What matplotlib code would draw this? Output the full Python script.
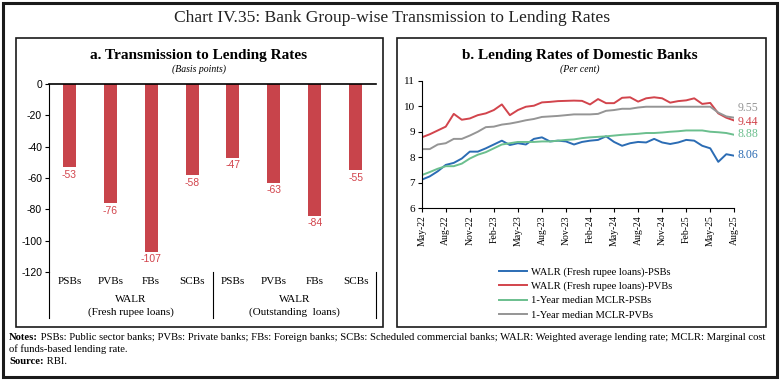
import matplotlib.pyplot as plt
from matplotlib.patches import Rectangle
from matplotlib.lines import Line2D
import numpy as np

plt.rcParams["axes.unicode_minus"] = False

# panel a data
bank_groups = ["PSBs", "PVBs", "FBs", "SCBs", "PSBs", "PVBs", "FBs", "SCBs"]
transmission = [-53, -76, -107, -58, -47, -63, -84, -55]
group_labels = ["WALR\n(Fresh rupee loans)", "WALR\n(Outstanding  loans)"]

# panel b data (May-22 to Aug-25, monthly)
months = ["May-22", "Jun-22", "Jul-22", "Aug-22", "Sep-22", "Oct-22", "Nov-22", "Dec-22",
          "Jan-23", "Feb-23", "Mar-23", "Apr-23", "May-23", "Jun-23", "Jul-23", "Aug-23",
          "Sep-23", "Oct-23", "Nov-23", "Dec-23", "Jan-24", "Feb-24", "Mar-24", "Apr-24",
          "May-24", "Jun-24", "Jul-24", "Aug-24", "Sep-24", "Oct-24", "Nov-24", "Dec-24",
          "Jan-25", "Feb-25", "Mar-25", "Apr-25", "May-25", "Jun-25", "Jul-25", "Aug-25"]
walr_psb = [7.12, 7.25, 7.45, 7.70, 7.78, 7.95, 8.22, 8.22, 8.35, 8.50, 8.65, 8.48, 8.55,
            8.50, 8.72, 8.78, 8.62, 8.65, 8.62, 8.50, 8.60, 8.65, 8.68, 8.82, 8.60, 8.45,
            8.55, 8.60, 8.58, 8.72, 8.58, 8.52, 8.58, 8.68, 8.65, 8.45, 8.35, 7.82, 8.12, 8.06]
walr_pvb = [8.78, 8.90, 9.05, 9.20, 9.70, 9.47, 9.52, 9.65, 9.72, 9.85, 10.07, 9.65, 9.85,
            9.98, 10.02, 10.15, 10.17, 10.20, 10.21, 10.22, 10.21, 10.07, 10.28, 10.12, 10.12,
            10.33, 10.35, 10.18, 10.31, 10.35, 10.31, 10.14, 10.20, 10.23, 10.31, 10.09, 10.13,
            9.72, 9.55, 9.44]
mclr_psb = [7.30, 7.42, 7.55, 7.65, 7.65, 7.75, 7.95, 8.10, 8.20, 8.35, 8.50, 8.55, 8.60,
            8.60, 8.60, 8.62, 8.62, 8.65, 8.68, 8.70, 8.75, 8.78, 8.80, 8.82, 8.85, 8.88,
            8.90, 8.92, 8.95, 8.95, 8.97, 9.00, 9.02, 9.05, 9.05, 9.05, 9.00, 8.98, 8.95, 8.88]
mclr_pvb = [8.32, 8.32, 8.50, 8.55, 8.72, 8.72, 8.85, 9.00, 9.18, 9.20, 9.28, 9.32, 9.38,
            9.45, 9.50, 9.58, 9.60, 9.62, 9.65, 9.68, 9.68, 9.68, 9.70, 9.82, 9.85, 9.90,
            9.90, 9.95, 9.98, 9.98, 9.98, 9.98, 9.98, 9.98, 9.98, 9.98, 9.98, 9.75, 9.60, 9.55]
series_names = ["WALR (Fresh rupee loans)-PSBs", "WALR (Fresh rupee loans)-PVBs",
                "1-Year median MCLR-PSBs", "1-Year median MCLR-PVBs"]

W, H = 780, 381
serif = "Liberation Serif"
sans = "Liberation Sans"
bar_red = "#C8444B"
colors = ["#2B6CB4", "#D2444C", "#6BBF8E", "#959595"]


def rect(x0, y0, x1, y1):
    # pixel box (top-left origin) -> figure fraction rect
    return [x0 / W, 1 - y1 / H, (x1 - x0) / W, (y1 - y0) / H]


fig = plt.figure(figsize=(W / 100, H / 100), dpi=100)

# outer frame and panel boxes
fig.patches.append(Rectangle((3.5 / W, 1 - 377 / H), 773.5 / W, 374 / H, transform=fig.transFigure,
                             fill=False, lw=2.2, ec="#1a1a1a"))
for x0, x1 in [(16, 383), (397, 766)]:
    fig.patches.append(Rectangle((x0 / W, 1 - 327 / H), (x1 - x0) / W, 289 / H,
                                 transform=fig.transFigure, fill=False, lw=1.2, ec="#1a1a1a"))

fig.text(392 / W, 1 - 18 / H, "Chart IV.35: Bank Group-wise Transmission to Lending Rates",
         ha="center", va="center", fontsize=12.6, family=serif, color="#222222")

# ---- panel a ----
ax1 = fig.add_axes(rect(49, 84, 376, 272))
x = np.arange(len(transmission))
ax1.bar(x, transmission, width=0.32, color=bar_red)
for xi, v in zip(x, transmission):
    ax1.annotate(str(v), (xi, v), xytext=(0, -2), textcoords="offset points",
                 ha="center", va="top", fontsize=7.5, color="#D2444C", family=sans)
ax1.set_xlim(-0.5, 7.5)
ax1.set_ylim(-120, 0)
ax1.set_yticks(np.arange(-120, 1, 20))
ax1.tick_params(axis="y", labelsize=7.5, length=3, width=0.8, pad=2)
for lab in ax1.get_yticklabels():
    lab.set_family(sans)
ax1.set_xticks([])
for s in ["right", "bottom"]:
    ax1.spines[s].set_visible(False)
ax1.spines["top"].set_linewidth(1.2)
ax1.spines["left"].set_linewidth(0.8)
tr = ax1.get_xaxis_transform()
for xs in [-0.5, 3.5, 7.5]:
    ax1.add_line(Line2D([xs, xs], [0, -0.245], transform=tr, clip_on=False, color="black", lw=0.8))
for xi, name in zip(x, bank_groups):
    ax1.text(xi, -0.053, name, transform=tr, ha="center", va="center", fontsize=8, family=serif)
for gx, g in zip([1.5, 5.5], group_labels):
    ax1.text(gx, -0.18, g, transform=tr, ha="center", va="center", fontsize=8,
             family=serif, linespacing=1.5)

fig.text(199 / W, 1 - 55 / H, "a. Transmission to Lending Rates", ha="center", va="center",
         fontsize=11, fontweight="bold", family=serif)
fig.text(199 / W, 1 - 69 / H, "(Basis points)", ha="center", va="center",
         fontsize=7, style="italic", family=serif)

# ---- panel b ----
ax2 = fig.add_axes(rect(421.7, 80.7, 734.3, 208.3))
t = np.arange(len(months))
for ys, c, name in zip([walr_psb, walr_pvb, mclr_psb, mclr_pvb], colors, series_names):
    ax2.plot(t, ys, color=c, lw=1.4, label=name)
ax2.set_xlim(0, len(months) - 1)
ax2.set_ylim(6, 11)
ax2.set_yticks(range(6, 12))
ax2.set_xticks(t[::3])
ax2.set_xticklabels(months[::3], rotation=90, fontsize=7, family=serif)
ax2.tick_params(axis="y", labelsize=8, length=3, width=0.8, pad=2)
ax2.tick_params(axis="x", length=3, width=0.8, pad=2)
for lab in ax2.get_yticklabels():
    lab.set_family(serif)
for s in ["right", "top"]:
    ax2.spines[s].set_visible(False)

for ys, c, dy in zip([mclr_pvb, walr_pvb, mclr_psb, walr_psb], [colors[3], colors[1], colors[2], colors[0]],
                     [108, 122, 134, 155]):
    fig.text(738 / W, 1 - dy / H, f"{ys[-1]:.2f}", ha="left", va="center", fontsize=8.5,
             color=c, family=serif)

fig.text(580 / W, 1 - 55 / H, "b. Lending Rates of Domestic Banks", ha="center", va="center",
         fontsize=11, fontweight="bold", family=serif)
fig.text(580 / W, 1 - 69 / H, "(Per cent)", ha="center", va="center",
         fontsize=7, style="italic", family=serif)

fig.legend(loc="upper left", bbox_to_anchor=(494 / W, 1 - 262 / H), frameon=False,
           prop={"family": serif, "size": 7.6}, handlelength=2.6, handletextpad=0.4,
           labelspacing=0.45, borderpad=0)

# notes
nfs = 7.7
n1 = fig.text(9 / W, 1 - 337 / H, "Notes:", ha="left", va="center", fontsize=nfs,
              family=serif, fontweight="bold")
ax2.annotate(" PSBs: Public sector banks; PVBs: Private banks; FBs: Foreign banks; "
             "SCBs: Scheduled commercial banks; WALR: Weighted average lending rate; MCLR: Marginal cost",
             xy=(1, 0.5), xycoords=n1, ha="left", va="center", fontsize=nfs, family=serif,
             annotation_clip=False)
fig.text(9 / W, 1 - 349 / H, "of funds-based lending rate.", ha="left", va="center",
         fontsize=nfs, family=serif)
n2 = fig.text(9 / W, 1 - 361 / H, "Source:", ha="left", va="center", fontsize=nfs,
              family=serif, fontweight="bold")
ax2.annotate(" RBI.", xy=(1, 0.5), xycoords=n2, ha="left", va="center", fontsize=nfs,
             family=serif, annotation_clip=False)

fig.savefig("out.png", dpi=100)
